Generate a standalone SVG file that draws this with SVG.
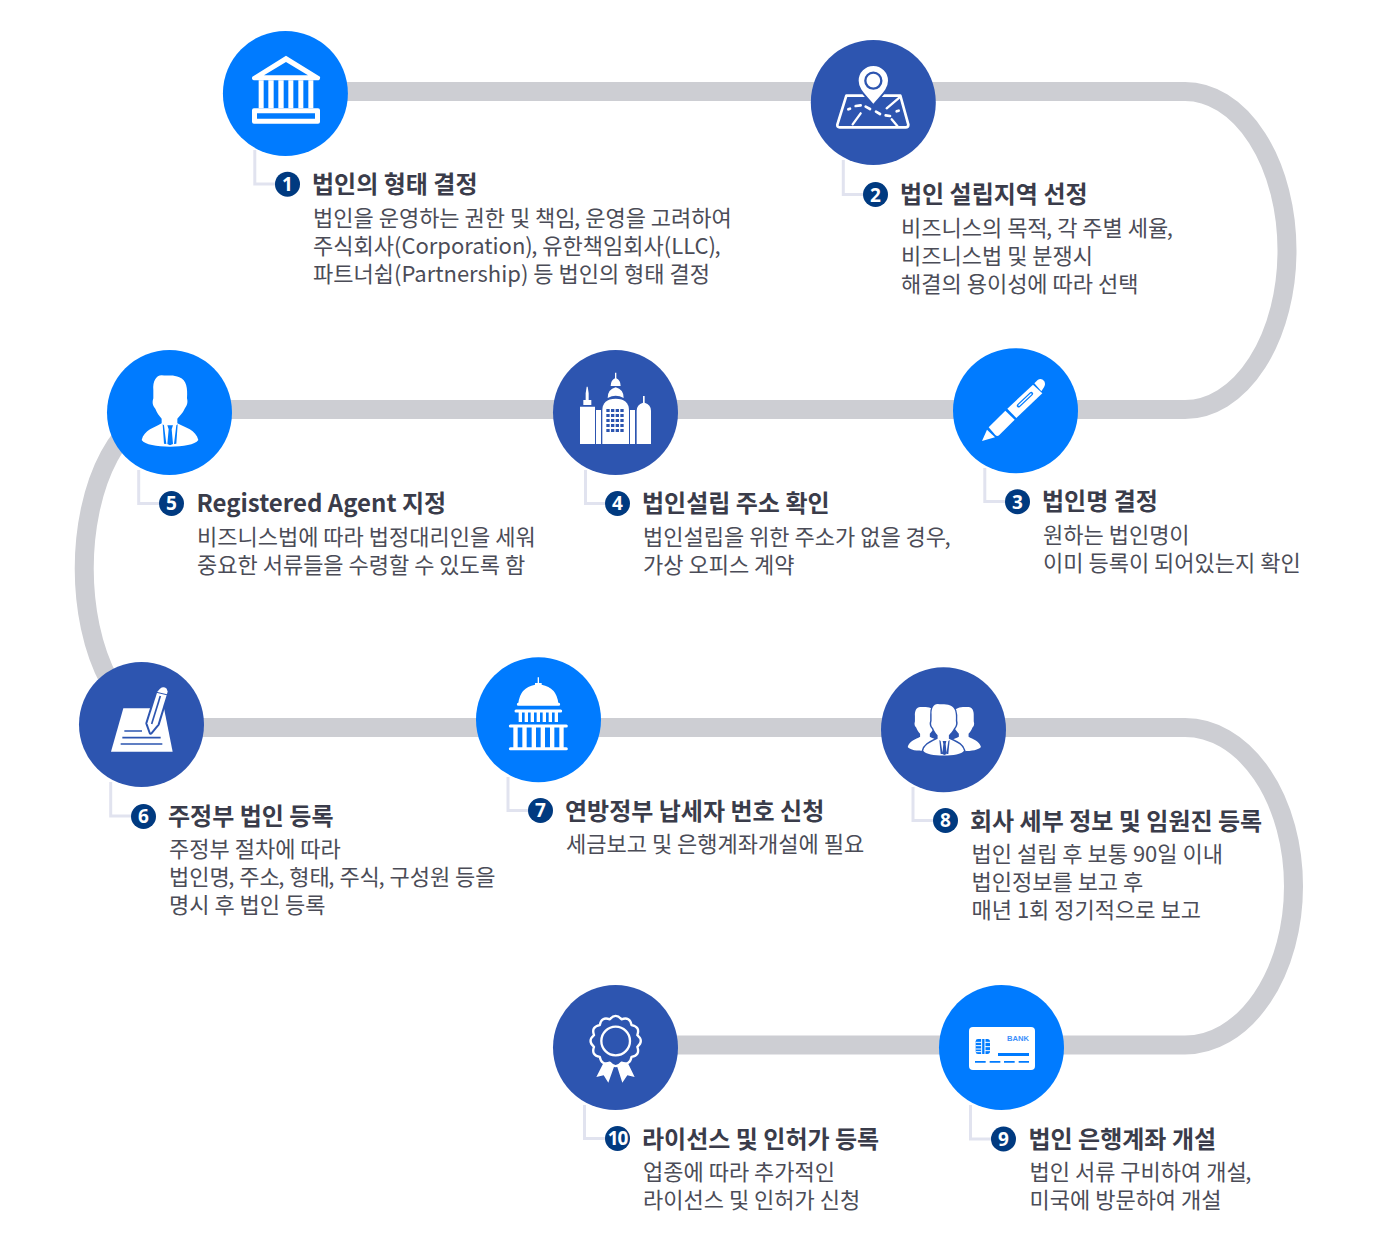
<svg xmlns="http://www.w3.org/2000/svg" width="1378" height="1256" viewBox="0 0 1378 1256">
<style>
.track{fill:none;stroke:#cdced3;stroke-width:19}
.lead{fill:none;stroke:#e1e3ef;stroke-width:3}
.bright{fill:#007bff}
.deep{fill:#2d55b0}
.num{fill:#003a80}
.numt{fill:#fff;font:700 19px "Noto Sans","Liberation Sans",sans-serif;text-anchor:middle}
.t{fill:#3a3c4a;font:700 24px "Noto Sans CJK KR","Noto Sans",sans-serif}
.b{fill:#4b4c57;font:400 22px "Noto Sans CJK KR","Noto Sans",sans-serif}
.w{fill:#fff}
</style>
<defs>
<path id="person" d="M190 150C188 125 198 106 215 106C235 108 250 104 268 112C290 120 293 145 291 175C295 190 289 200 284 206C278 220 268 228 262 236V250C285 262 318 270 325 300C315 314 280 320 240 320C200 320 165 314 155 300C162 270 195 262 215 250V236C208 228 200 218 196 206C190 200 185 190 190 175Z"/>
</defs>
<g id="connectors">
<path class="track" d="M285 91.500H1185A102 159 0 0 1 1185 409.500H170A85.500 158.500 0 0 0 170 727.500H1185A108.500 158.750 0 0 1 1185 1045H615"/>
<path class="lead" d="M254.800 150V184H280"/>
<path class="lead" d="M843.300 160V194.500H868"/>
<path class="lead" d="M984.800 468V501.500H1010"/>
<path class="lead" d="M585.500 470V503.500H610"/>
<path class="lead" d="M138.700 470V503.500H164"/>
<path class="lead" d="M110.700 782V816H136"/>
<path class="lead" d="M508 777V810.500H533"/>
<path class="lead" d="M913 787V820.500H938"/>
<path class="lead" d="M970.500 1105V1139H996"/>
<path class="lead" d="M584.500 1105V1138.500H610"/>
</g>
<g id="node1">
<circle class="bright" cx="285.400" cy="93.400" r="62.500"/>
<g transform="translate(200 20) scale(.33333)">
<path class="w" d="M258 107L360 170Q362 181 352 181H165Q153 181 157 170ZM258 126L192 166H324Z" fill-rule="evenodd"/>
<path class="w" d="M176 181H191V265H176ZM205 181H221V265H205ZM235 181H251V265H235ZM265 181H280V265H265ZM295 181H310V265H295ZM325 181H340V265H325Z"/>
<path class="w" d="M162 265H354Q360 265 360 271V305Q360 311 354 311H162Q156 311 156 305V271Q156 265 162 265ZM171 280V296H345V280Z" fill-rule="evenodd"/>
</g>
<circle class="num" cx="287.500" cy="184.200" r="12.500"/>
<text class="numt" x="287.500" y="191">1</text>
<text class="t" x="312" y="193">법인의 형태 결정</text>
<text class="b" x="313" y="226">법인을 운영하는 권한 및 책임<tspan dx="-1.500">,</tspan> 운영을 고려하여</text>
<text class="b" x="313" y="254">주식회사(Corporation)<tspan dx="-1.500">,</tspan> 유한책임회사(LLC)<tspan dx="-1.500">,</tspan></text>
<text class="b" x="313" y="282">파트너쉽(Partnership) 등 법인의 형태 결정</text>
</g>
<g id="node2">
<circle class="deep" cx="873.300" cy="102.400" r="62.500"/>
<g transform="translate(790 30) scale(.33333)">
<path d="M169 197H331L355 284Q355 292 347 292H149Q141 292 142 284Z" fill="none" stroke="#fff" stroke-width="8" stroke-linejoin="round"/>
<path d="M250 226C225 195 203 180 203 152A47 47 0 0 1 297 152C297 180 275 195 250 226Z" fill="#fff" stroke="#2d55b0" stroke-width="6"/>
<circle cx="250" cy="152" r="24" fill="none" stroke="#2d55b0" stroke-width="7"/>
<path d="M175 238L180 236M197 228L212 226M227 230L240 237M258 245L270 252M287 256L300 258M320 244L326 242" stroke="#fff" stroke-width="8" stroke-linecap="round" fill="none"/>
<path d="M188 283L212 250M305 268L322 288M290 235L328 203" stroke="#fff" stroke-width="7" stroke-linecap="round" fill="none"/>
</g>
<circle class="num" cx="875.500" cy="194.500" r="12.500"/>
<text class="numt" x="875.500" y="201.500">2</text>
<text class="t" x="900" y="203">법인 설립지역 선정</text>
<text class="b" x="901" y="236">비즈니스의 목적<tspan dx="-1.500">,</tspan> 각 주별 세율<tspan dx="-1.500">,</tspan></text>
<text class="b" x="901" y="264">비즈니스법 및 분쟁시</text>
<text class="b" x="901" y="292">해결의 용이성에 따라 선택</text>
</g>
<g id="node3">
<circle class="bright" cx="1015.500" cy="410.700" r="62.500"/>
<g transform="translate(940 340) scale(.33333)">
<path class="w" d="M126 303L141 269L165 292Z"/>
<path class="w" d="M146 262L196 212L224 239L178 285Q172 291 166 285Z"/>
<path class="w" d="M202 206L279 134L307 160L229 234Z"/>
<path class="w" d="M283 130L293 120Q304 113 313 124Q318 134 311 143L304 154Z"/>
<path d="M236 197L274 161" stroke="#007bff" stroke-width="11" stroke-linecap="round" fill="none"/>
<path d="M237 196L273 162" stroke="#fff" stroke-width="4" stroke-linecap="round" fill="none"/>
</g>
<circle class="num" cx="1017.500" cy="501.700" r="12.500"/>
<text class="numt" x="1017.500" y="508.500">3</text>
<text class="t" x="1042" y="510">법인명 결정</text>
<text class="b" x="1043" y="543">원하는 법인명이</text>
<text class="b" x="1043" y="571">이미 등록이 되어있는지 확인</text>
</g>
<g id="node4">
<circle class="deep" cx="615.500" cy="412.500" r="62.500"/>
<g transform="translate(540 340) scale(.33333)">
<path class="w" d="M120 200H165V312H120ZM130 180H154V195H130ZM137 160L140 140H143L146 160V180H137ZM168 210H183V312H168ZM270 210H285V312H270Z"/>
<path class="w" d="M187 312V212Q187 176 227 176Q267 176 267 212V312Z"/>
<path class="w" d="M203 174Q203 148 227 142Q251 148 251 174Q227 160 203 174ZM212 138Q212 122 225 115V98H229V115Q242 122 242 138Z"/>
<path class="w" d="M290 312V212Q290 194 309 188V168H314V188Q333 194 333 212V312Z"/>
<path d="M199 207h10v9h-10zM213 207h10v9h-10zM227 207h10v9h-10zM241 207h10v9h-10zM199 222h10v9h-10zM213 222h10v9h-10zM227 222h10v9h-10zM241 222h10v9h-10zM199 237h10v9h-10zM213 237h10v9h-10zM227 237h10v9h-10zM241 237h10v9h-10zM199 252h10v9h-10zM213 252h10v9h-10zM227 252h10v9h-10zM241 252h10v9h-10zM199 267h10v9h-10zM213 267h10v9h-10zM227 267h10v9h-10zM241 267h10v9h-10z" fill="#2d55b0"/>
</g>
<circle class="num" cx="617.500" cy="503.500" r="12.500"/>
<text class="numt" x="617.500" y="510.300">4</text>
<text class="t" x="642" y="512">법인설립 주소 확인</text>
<text class="b" x="643" y="545">법인설립을 위한 주소가 없을 경우<tspan dx="-1.500">,</tspan></text>
<text class="b" x="643" y="573">가상 오피스 계약</text>
</g>
<g id="node5">
<circle class="bright" cx="169.500" cy="412.500" r="62.500"/>
<g transform="translate(90 340) scale(.33333)">
<use href="#person" fill="#fff"/>
<path d="M218 253L222 256L229 312L222 311ZM263 253L259 256L252 312L259 311ZM232 256H249L245 268L249 312L240 316L232 312L236 268Z" fill="#007bff"/>
</g>
<circle class="num" cx="171.500" cy="503.500" r="12.500"/>
<text class="numt" x="171.500" y="510.300">5</text>
<text class="t" x="196.500" y="512">Registered Agent 지정</text>
<text class="b" x="197" y="545">비즈니스법에 따라 법정대리인을 세워</text>
<text class="b" x="197" y="573">중요한 서류들을 수령할 수 있도록 함</text>
</g>
<g id="node6">
<circle class="deep" cx="141.500" cy="724.500" r="62.500"/>
<g transform="translate(70 650) scale(.33333)">
<path class="w" d="M160 175H282L308 305H123Z"/>
<path d="M262 125L270 116Q280 108 290 116L293 125L263 223L242 248L232 220Z" fill="#2d55b0" stroke="#2d55b0" stroke-width="12" stroke-linejoin="round"/>
<path class="w" d="M262 125L270 116Q280 108 290 116L293 125L263 223L242 248L232 220Z"/>
<path d="M271 138L245 222" stroke="#2d55b0" stroke-width="5"/>
<path d="M260 127L294 135" stroke="#2d55b0" stroke-width="3"/>
<path d="M163 243H216M157 263H272M152 282H277" stroke="#2d55b0" stroke-width="5" fill="none"/>
</g>
<circle class="num" cx="143.500" cy="816.500" r="12.500"/>
<text class="numt" x="143.500" y="823.300">6</text>
<text class="t" x="168" y="825">주정부 법인 등록</text>
<text class="b" x="169" y="857">주정부 절차에 따라</text>
<text class="b" x="169" y="885">법인명<tspan dx="-1.500">,</tspan> 주소<tspan dx="-1.500">,</tspan> 형태<tspan dx="-1.500">,</tspan> 주식<tspan dx="-1.500">,</tspan> 구성원 등을</text>
<text class="b" x="169" y="913">명시 후 법인 등록</text>
</g>
<g id="node7">
<circle class="bright" cx="538.500" cy="719.700" r="62.500"/>
<g transform="translate(465 650) scale(.33333)">
<path class="w" d="M160 160Q165 112 210 104V99H218V82H222V99H230V104Q275 112 280 160Z"/>
<path d="M160 163H281M153 183H287M136 228H304M136 296H304" stroke="#fff" stroke-width="9" stroke-linecap="round" fill="none"/>
<path class="w" d="M161 186h10v30h-10zM179 186h10v30h-10zM197 186h10v30h-10zM215 186h10v30h-10zM233 186h10v30h-10zM251 186h10v30h-10zM269 186h10v30h-10zM145 230h13v64h-13zM172 230h13v64h-13zM200 230h13v64h-13zM227 230h13v64h-13zM255 230h13v64h-13zM283 230h13v64h-13z"/>
</g>
<circle class="num" cx="540.500" cy="810.500" r="12.500"/>
<text class="numt" x="540.500" y="817.300">7</text>
<text class="t" x="565" y="820">연방정부 납세자 번호 신청</text>
<text class="b" x="566" y="852">세금보고 및 은행계좌개설에 필요</text>
</g>
<g id="node8">
<circle class="deep" cx="943.500" cy="729.700" r="62.500"/>
<g transform="translate(870 660) scale(.33333)">
<g fill="#fff">
<use href="#person" transform="translate(17 75) scale(.62)"/>
<use href="#person" transform="translate(429 75) scale(-.62 .62)"/>
</g>
<use href="#person" transform="translate(48 56) scale(.72)" fill="#fff" stroke="#2d55b0" stroke-width="12" paint-order="stroke"/>
<path d="M208 240L212 243L218 282L212 282ZM239 240L235 243L229 282L235 282ZM218 243H229L227 252L230 282L223 285L217 282L220 252Z" fill="#2d55b0"/>
</g>
<circle class="num" cx="945.500" cy="820.500" r="12.500"/>
<text class="numt" x="945.500" y="827.300">8</text>
<text class="t" x="970" y="830">회사 세부 정보 및 임원진 등록</text>
<text class="b" x="971.500" y="862">법인 설립 후 보통 90일 이내</text>
<text class="b" x="971.500" y="890">법인정보를 보고 후</text>
<text class="b" x="971.500" y="918">매년 1회 정기적으로 보고</text>
</g>
<g id="node9">
<circle class="bright" cx="1001.500" cy="1047.500" r="62.500"/>
<g transform="translate(930 980) scale(.33333)">
<rect class="w" x="117" y="141" width="198" height="129" rx="12"/>
<path d="M204 219H297V228H204ZM135 243h32v5h-32zM179 243h32v5h-32zM222 243h32v5h-32zM266 243h31v5h-31z" fill="#007bff"/>
<path d="M137 184Q137 177 144 177H172Q180 177 180 185V214Q180 222 172 222H144Q137 222 137 215Z" fill="#007bff"/>
<path d="M137 187H155M137 197H155M137 207H155M137 215H155M155 177V222M165 177V222M165 187H180M165 200H180M165 212H180" stroke="#fff" stroke-width="3" fill="none"/>
</g>
<text x="1007" y="1041" fill="#3b8ffb" style="font:700 7.600px 'Liberation Sans',sans-serif">BANK</text>
<circle class="num" cx="1003.500" cy="1139" r="12.500"/>
<text class="numt" x="1003.500" y="1145.800">9</text>
<text class="t" x="1028.500" y="1148">법인 은행계좌 개설</text>
<text class="b" x="1029.500" y="1180">법인 서류 구비하여 개설<tspan dx="-1.500">,</tspan></text>
<text class="b" x="1029.500" y="1208">미국에 방문하여 개설</text>
</g>
<g id="node10">
<circle class="deep" cx="615.500" cy="1047.500" r="62.500"/>
<g transform="translate(545 980) scale(.33333)">
<path class="w" d="M178 244L210 252L190 308L176 286L154 291ZM246 244L214 252L232 308L247 286L269 291Z"/>
<g transform="translate(212 183) scale(1.02)">
<path d="M17.100 -63.750Q42 -72.700 46.700 -46.700Q72.700 -42 63.750 -17.100Q84 0 63.750 17.100Q72.700 42 46.700 46.700Q42 72.700 17.100 63.750Q0 84 -17.100 63.750Q-42 72.700 -46.700 46.700Q-72.700 42 -63.750 17.100Q-84 0 -63.750 -17.100Q-72.700 -42 -46.700 -46.700Q-42 -72.700 -17.100 -63.750Q0 -84 17.100 -63.750Z" fill="#2d55b0" stroke="#fff" stroke-width="7" stroke-linejoin="round"/>
</g>
<circle cx="212" cy="183" r="43" fill="none" stroke="#fff" stroke-width="7"/>
</g>
<circle class="num" cx="617.500" cy="1138.500" r="12.500"/>
<text class="numt" x="617.500" y="1145.300" style="letter-spacing:-1px">10</text>
<text class="t" x="642" y="1148">라이선스 및 인허가 등록</text>
<text class="b" x="643" y="1180">업종에 따라 추가적인</text>
<text class="b" x="643" y="1208">라이선스 및 인허가 신청</text>
</g>
</svg>
